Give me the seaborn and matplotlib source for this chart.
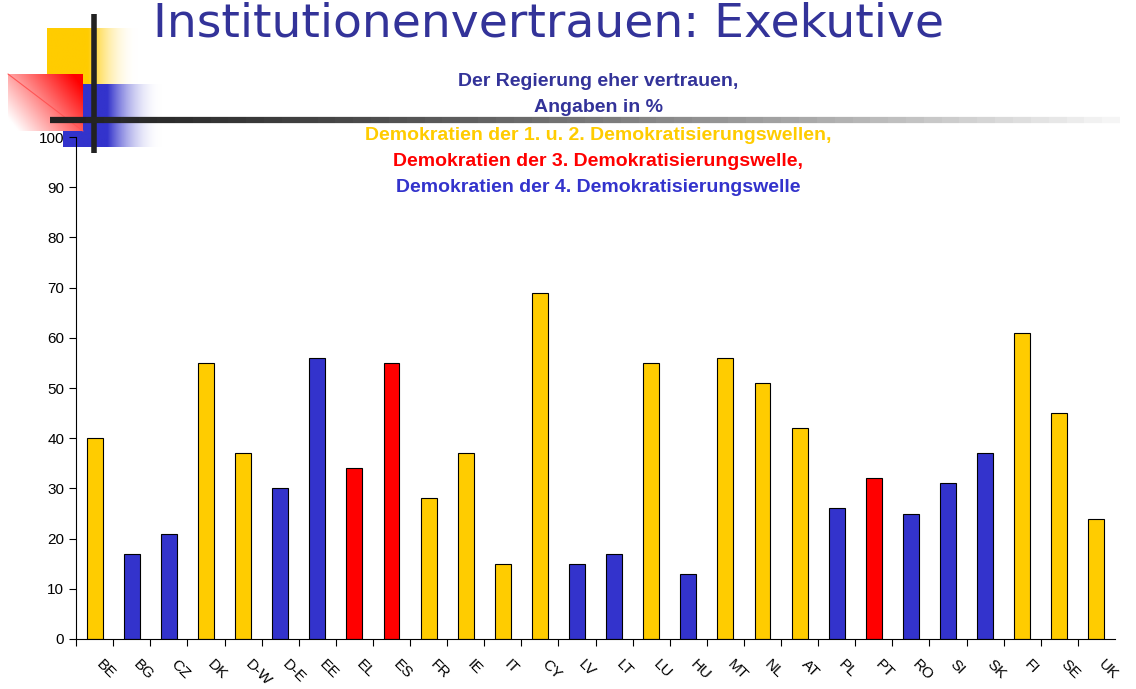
import numpy as np
import pandas as pd
import seaborn as sns
import matplotlib.pyplot as plt
import matplotlib.transforms as mtransforms
from matplotlib.colors import LinearSegmentedColormap

countries = ['BE', 'BG', 'CZ', 'DK', 'D-W', 'D-E', 'EE', 'EL', 'ES', 'FR', 'IE', 'IT', 'CY', 'LV',
             'LT', 'LU', 'HU', 'MT', 'NL', 'AT', 'PL', 'PT', 'RO', 'SI', 'SK', 'FI', 'SE', 'UK']
vertrauen = [40, 17, 21, 55, 37, 30, 56, 34, 55, 28, 37, 15, 69, 15,
             17, 55, 13, 56, 51, 42, 26, 32, 25, 31, 37, 61, 45, 24]
welle = ['1/2', '4', '4', '1/2', '1/2', '4', '4', '3', '3', '1/2', '1/2', '1/2', '1/2', '4',
         '4', '1/2', '4', '1/2', '1/2', '1/2', '4', '3', '4', '4', '4', '1/2', '1/2', '1/2']

farben = {'1/2': '#FFCC00', '3': '#FF0000', '4': '#3333CC'}

df = pd.DataFrame({'land': countries, 'wert': vertrauen, 'welle': welle})

sns.set_theme(style="white")
plt.rcParams['font.family'] = ['Liberation Sans', 'DejaVu Sans']

fig = plt.figure(figsize=(11.36, 6.89), dpi=100)

# decoration top left (gradient blocks and lines)
deko = fig.add_axes([0, 0, 1, 1], zorder=0)
deko.set_xlim(0, 1136)
deko.set_ylim(689, 0)
deko.axis('off')

def verlauf(ax, x0, x1, y0, y1, farbe):
    cmap = LinearSegmentedColormap.from_list('v', [(0, farbe), (0.45, farbe), (1, (1, 1, 1, 0))])
    grad = np.linspace(0, 1, 256)
    ax.imshow(grad[None, :], cmap=cmap, extent=[x0, x1, y1, y0], aspect='auto', interpolation='bilinear')

verlauf(deko, 47, 138, 28, 84, '#FFCC00')
verlauf(deko, 63, 162, 84, 147, '#3333CC')
# red gradient block
gx = np.linspace(0, 1, 200)[None, :]
gy = np.linspace(0, 1, 200)[:, None]
rg = np.clip(0.75 * gx + 0.45 * (1 - gy) - 0.1, 0, 1)
red_cmap = LinearSegmentedColormap.from_list('r', ['white', '#FF0000'])
deko.imshow(rg, cmap=red_cmap, extent=[8, 83, 131, 74], aspect='auto', origin='upper')
deko.plot([8, 83], [74, 131], color='#FF5555', lw=0.8)
deko.plot([94, 94], [14, 153], color='#222222', lw=4, solid_capstyle='butt')
n = 60
xs = np.linspace(50, 1120, n + 1)
for i in range(n):
    g = 0.13 + 0.85 * (i / n) ** 1.3
    deko.plot(xs[i:i + 2], [120, 120], color=(g, g, g), lw=4.5, solid_capstyle='butt')

ax = fig.add_axes([0.067, 0.0726, 0.9145, 0.7284], zorder=1)
ax.patch.set_alpha(0)
sns.barplot(data=df, x='land', y='wert', hue='welle', palette=farben, dodge=False, saturation=1,
            width=0.43, edgecolor='black', linewidth=0.8, legend=False, ax=ax)

ax.set_ylim(0, 100)
ax.set_xlim(-0.5, len(countries) - 0.5)
ax.set_yticks(range(0, 101, 10))
ax.set_xlabel('')
ax.set_ylabel('')
ax.set_xticks(np.arange(len(countries)) - 0.5, minor=True)
ax.tick_params(axis='x', which='major', length=0, pad=13, labelsize=11, labelcolor='black')
ax.tick_params(axis='x', which='minor', length=5, width=0.8, direction='out', color='black', bottom=True)
ax.tick_params(axis='y', length=5, width=0.8, direction='out', color='black', left=True,
               labelsize=11, labelcolor='black')
versatz = mtransforms.ScaledTranslation(9 / 100, 0, fig.dpi_scale_trans)
for lab in ax.get_xticklabels():
    lab.set_rotation(-45)
    lab.set_ha('left')
    lab.set_va('top')
    lab.set_rotation_mode('anchor')
    lab.set_transform(lab.get_transform() + versatz)
for s in ['top', 'right']:
    ax.spines[s].set_visible(False)
for s in ['left', 'bottom']:
    ax.spines[s].set_color('black')
    ax.spines[s].set_linewidth(0.8)

fig.text(0.4825, 1 - 24 / 689, 'Institutionenvertrauen: Exekutive', ha='center', va='center',
         fontsize=34, color='#333399', family='DejaVu Sans')
zeilen = [('Der Regierung eher vertrauen,', '#333399', 81),
          ('Angaben in %', '#333399', 108),
          ('Demokratien der 1. u. 2. Demokratisierungswellen,', '#FFCC00', 135),
          ('Demokratien der 3. Demokratisierungswelle,', '#FF0000', 161),
          ('Demokratien der 4. Demokratisierungswelle', '#3333CC', 187)]
for txt, col, y in zeilen:
    fig.text(598 / 1136, 1 - y / 689, txt, ha='center', va='center', fontsize=14,
             fontweight='bold', color=col)

fig.savefig('out.png', dpi=100)
